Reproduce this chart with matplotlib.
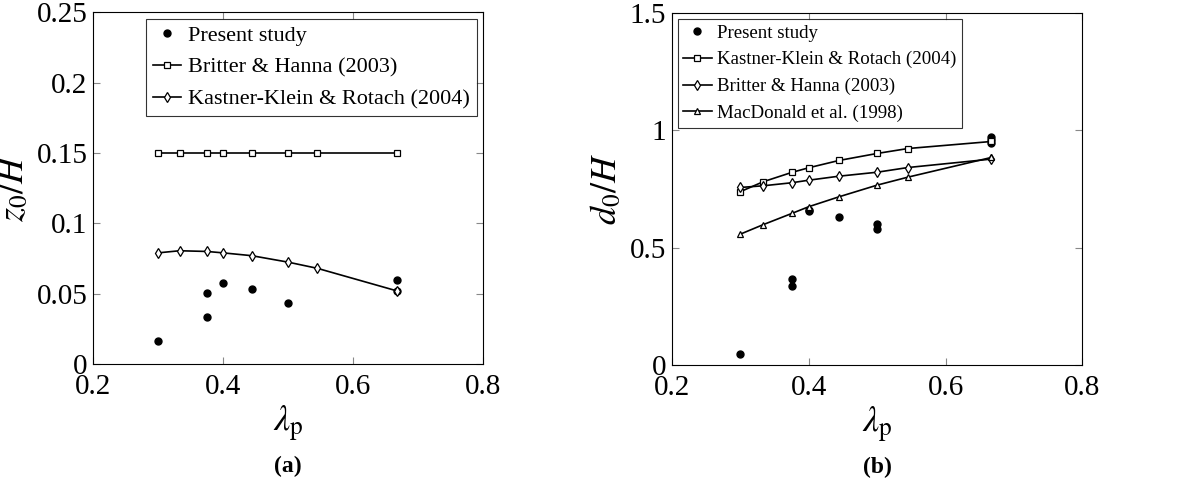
import numpy as np
import matplotlib.pyplot as plt

plt.rcParams['font.family'] = ['Liberation Serif', 'DejaVu Serif']
plt.rcParams['mathtext.fontset'] = 'stix'

# lambda_p values used by the models
lam = [0.3, 0.333, 0.375, 0.4, 0.444, 0.5, 0.545, 0.667]

# (a) roughness length z0/H
z0_bh = [0.15, 0.15, 0.15, 0.15, 0.15, 0.15, 0.15, 0.15]
z0_kk = [0.079, 0.0805, 0.080, 0.079, 0.077, 0.0724, 0.068, 0.052]
z0_lam_ps = [0.3, 0.375, 0.375, 0.4, 0.444, 0.5, 0.667, 0.667]
z0_ps = [0.0163, 0.0502, 0.0333, 0.0575, 0.0531, 0.0434, 0.0599, 0.0517]

# (b) displacement height d0/H
d0_kk = [0.739, 0.781, 0.821, 0.841, 0.872, 0.902, 0.923, 0.953]
d0_bh = [0.757, 0.764, 0.777, 0.788, 0.805, 0.822, 0.842, 0.878]
d0_mac = [0.558, 0.598, 0.646, 0.675, 0.717, 0.767, 0.801, 0.885]
d0_lam_ps = [0.3, 0.375, 0.375, 0.4, 0.4, 0.444, 0.5, 0.5, 0.667, 0.667, 0.667]
d0_ps = [0.047, 0.365, 0.337, 0.663, 0.657, 0.629, 0.601, 0.578, 0.970, 0.947, 0.958]

fig = plt.figure(figsize=(11.83, 4.88), dpi=100)
ax1 = fig.add_axes([0.0786, 0.254, 0.330, 0.721])
ax2 = fig.add_axes([0.568, 0.252, 0.347, 0.721])

mk = dict(color='black', linewidth=1.2, markersize=5, markerfacecolor='white',
          markeredgewidth=0.9)

ax1.plot(z0_lam_ps, z0_ps, 'o', color='black', markersize=5, label='Present study')
ax1.plot(lam, z0_bh, marker='s', label='Britter & Hanna (2003)', **mk)
ax1.plot(lam, z0_kk, marker='d', label='Kastner-Klein & Rotach (2004)', **mk)
ax1.set_ylim(0, 0.25)
ax1.set_yticks([0, 0.05, 0.1, 0.15, 0.2, 0.25])
ax1.set_yticklabels(['0', '0.05', '0.1', '0.15', '0.2', '0.25'])
ax1.set_ylabel('$z_0/H$', fontsize=26, labelpad=4)

ax2.plot(d0_lam_ps, d0_ps, 'o', color='black', markersize=5, label='Present study')
ax2.plot(lam, d0_kk, marker='s', label='Kastner-Klein & Rotach (2004)', **mk)
ax2.plot(lam, d0_bh, marker='d', label='Britter & Hanna (2003)', **mk)
ax2.plot(lam, d0_mac, marker='^', label='MacDonald et al. (1998)', **mk)
ax2.set_ylim(0, 1.5)
ax2.set_yticks([0, 0.5, 1, 1.5])
ax2.set_yticklabels(['0', '0.5', '1', '1.5'])
ax2.set_ylabel('$d_0/H$', fontsize=26, labelpad=4)

for ax, tag in [(ax1, '(a)'), (ax2, '(b)')]:
    ax.set_xlim(0.2, 0.8)
    ax.set_xticks([0.2, 0.4, 0.6, 0.8])
    ax.set_xticklabels(['0.2', '0.4', '0.6', '0.8'])
    ax.tick_params(direction='in', top=True, right=True, labelsize=21,
                   color='#888888', length=5, pad=4)
    ax.tick_params(axis='x', pad=7)
    for s in ax.spines.values():
        s.set_linewidth(0.8)
    ax.set_xlabel(r'$\lambda_{\mathrm{p}}$', fontsize=26, labelpad=3)
    ax.text(0.5, -0.29, tag, transform=ax.transAxes, ha='center', va='center',
            fontsize=17, fontweight='bold')

l1 = ax1.legend(loc='upper right', fontsize=16, frameon=True, fancybox=False,
                edgecolor='black', handlelength=1.3, handletextpad=0.3,
                borderpad=0.3, labelspacing=0.5, borderaxespad=0.3)
l1.get_frame().set_linewidth(0.8)
l2 = ax2.legend(loc='upper left', fontsize=13.6, frameon=True, fancybox=False,
                edgecolor='black', handlelength=1.5, handletextpad=0.3,
                borderpad=0.3, labelspacing=0.5, borderaxespad=0.3)
l2.get_frame().set_linewidth(0.8)

fig.savefig('out.png', dpi=100)
